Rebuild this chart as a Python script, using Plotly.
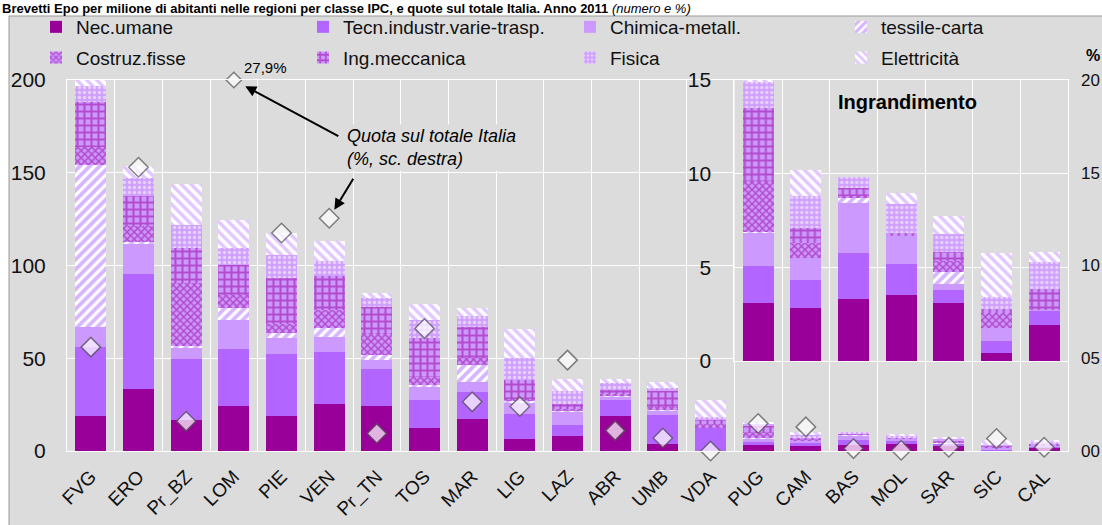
import plotly.graph_objects as go
import numpy as np

regions = ["FVG", "ERO", "Pr_BZ", "LOM", "PIE", "VEN", "Pr_TN", "TOS", "MAR", "LIG", "LAZ",
           "ABR", "UMB", "VDA", "PUG", "CAM", "BAS", "MOL", "SAR", "SIC", "CAL"]

nec_umane = [18.8, 33.2, 16.6, 24.2, 18.8, 25.6, 24.2, 12.4, 17.1, 6.7, 8.1,
             18.8, 4.0, 0.0, 3.12, 2.85, 3.33, 3.55, 3.07, 0.41, 1.91]
tecn_industr = [37.1, 62.1, 33.0, 30.8, 33.5, 27.6, 20.0, 15.0, 14.8, 13.5, 5.8,
                8.6, 15.3, 12.6, 1.93, 1.45, 2.43, 1.65, 0.71, 0.65, 0.77]
chimica = [11.1, 16.8, 6.3, 15.6, 8.5, 8.4, 4.8, 7.2, 5.4, 6.0, 7.2,
           1.8, 2.7, 0.0, 1.79, 1.19, 2.66, 1.45, 0.35, 0.71, 0.05]
tessile = [87.4, 0.6, 0.8, 6.4, 2.7, 4.9, 2.7, 1.0, 9.0, 0.8, 0.8,
           0.8, 0.5, 0.0, 0.05, 0.0, 0.32, 0.0, 0.62, 0.0, 0.0]
costruz = [9.6, 8.4, 33.8, 7.2, 4.8, 9.6, 11.8, 4.4, 4.0, 1.2, 1.0,
           1.0, 1.0, 2.0, 2.7, 0.81, 0.05, 0.0, 0.57, 0.77, 0.0]
ing_mecc = [24.1, 16.2, 18.9, 16.2, 24.9, 18.0, 14.3, 20.8, 16.7, 10.0, 2.7,
            1.8, 9.3, 2.5, 3.9, 0.78, 0.44, 0.18, 0.50, 0.26, 1.13]
fisica = [8.7, 9.9, 12.6, 9.3, 12.6, 8.1, 4.6, 9.8, 5.8, 11.7, 6.7,
          3.6, 1.0, 1.0, 1.4, 1.74, 0.59, 1.56, 0.97, 0.59, 1.42]
elettricita = [4.0, 6.3, 22.2, 15.0, 11.7, 10.8, 2.7, 8.5, 4.2, 15.7, 6.5,
               2.4, 3.5, 9.3, 0.4, 1.37, 0.0, 0.58, 0.94, 2.39, 0.55]

quota = [5.6, 15.3, 1.6, 27.9, 11.75, 12.55, 0.94, 6.6, 2.65, 2.4, 4.9,
         1.1, 0.7, 0.0, 1.48, 1.3, 0.13, 0.04, 0.2, 0.67, 0.2]

y_ticks = [0, 50, 100, 150, 200]
inset_ticks = [0, 5, 10, 15]
pct_ticks = [0, 5, 10, 15, 20]
pct_text = ["00", "05", "10", "15", "20"]
inset_start = 14  # PUG

FONT = "Liberation Sans, Arial, sans-serif"
BG = "#dcdcdc"

# plot area geometry in pixels
W, H = 1102, 525
ML, MR, MT, MB = 67, 34, 80, 74
PW, PH = W - ML - MR, H - MT - MB


def px_x(p):
    return (p - ML) / PW


def px_y(p):
    return (H - MB - p) / PH


series = [
    ("Nec.umane", nec_umane, dict(color="#990099"), "legend"),
    ("Tecn.industr.varie-trasp.", tecn_industr, dict(color="#b266ff"), "legend2"),
    ("Chimica-metall.", chimica, dict(color="#cc99ff"), "legend3"),
    ("tessile-carta", tessile, dict(color="white", pattern=dict(shape="/", fgcolor="#b06cff", bgcolor="white", size=7, solidity=0.55)), "legend4"),
    ("Costruz.fisse", costruz, dict(color="#cc88ee", pattern=dict(shape="x", fgcolor="#990099", bgcolor="#cc99ff", size=5, solidity=0.5)), "legend"),
    ("Ing.meccanica", ing_mecc, dict(color="#cc99ff", pattern=dict(shape="+", fgcolor="#990099", bgcolor="#cc99ff", size=7, solidity=0.5)), "legend2"),
    ("Fisica", fisica, dict(color="#d9b3ff", pattern=dict(shape=".", fgcolor="white", bgcolor="#d0a0ff", size=5, solidity=0.35)), "legend3"),
    ("Elettricità", elettricita, dict(color="white", pattern=dict(shape="\\", fgcolor="#c690ff", bgcolor="white", size=7, solidity=0.5)), "legend4"),
]

fig = go.Figure()
for name, vals, mk, lg in series:
    fig.add_trace(go.Bar(x=regions, y=vals, name=name, marker=dict(line=dict(width=0), **mk),
                         legend=lg, legendgroup=name, xaxis="x", yaxis="y"))
for name, vals, mk, lg in series:
    fig.add_trace(go.Bar(x=regions[inset_start:], y=vals[inset_start:], name=name,
                         marker=dict(line=dict(width=0), **mk), showlegend=False,
                         legendgroup=name, xaxis="x2", yaxis="y3"))

q = np.array(quota)
fig.add_trace(go.Scatter(x=regions, y=np.minimum(q, 20), mode="markers", showlegend=False,
                         marker=dict(symbol="diamond", size=np.where(q > 20, 12, 15), color="white",
                                     line=dict(color="#555555", width=1.5)),
                         xaxis="x", yaxis="y2", cliponaxis=False))

grid = dict(showgrid=True, gridcolor="white", gridwidth=1, showline=True, linecolor="white",
            linewidth=1, mirror=True, zeroline=False, automargin=False)
tickfont = dict(family=FONT, size=21, color="#111")

n_main = len(regions)
n_inset = n_main - inset_start
inset_x0 = inset_start / n_main
inset_y0 = px_y(361)

fig.update_layout(
    width=W, height=H, barmode="stack", bargap=0.35,
    margin=dict(l=ML, r=MR, t=MT, b=MB, autoexpand=False),
    paper_bgcolor="white", plot_bgcolor="rgba(0,0,0,0)",
    font=dict(family=FONT, size=20, color="#111"),
    xaxis=dict(domain=[0, 1], type="category", range=[-0.5, n_main - 0.5], tickson="boundaries",
               ticks="", tickangle=-45, tickfont=dict(family=FONT, size=19, color="#111"),
               ticklabelstandoff=6, **grid),
    yaxis=dict(domain=[0, 1], range=[0, 200], tickvals=y_ticks, ticks="", tickfont=tickfont,
               ticklabelstandoff=16, **grid),
    yaxis2=dict(overlaying="y", side="right", range=[0, 20], tickvals=pct_ticks, ticktext=pct_text,
                showgrid=False, zeroline=False, ticks="", tickfont=dict(family=FONT, size=17, color="#111"),
                ticklabelstandoff=12, automargin=False),
    xaxis2=dict(domain=[inset_x0, 1], anchor="y3", type="category", range=[-0.5, n_inset - 0.5],
                tickson="boundaries", ticks="", showticklabels=False, **grid),
    yaxis3=dict(domain=[inset_y0, 1], anchor="x2", range=[0, 15], tickvals=inset_ticks, ticks="",
                tickfont=tickfont, ticklabelstandoff=18, **grid),
    showlegend=True,
)

leg_common = dict(orientation="v", bgcolor="rgba(0,0,0,0)", traceorder="grouped", tracegroupgap=3,
                  font=dict(family=FONT, size=19, color="#111"), yanchor="top", xanchor="left",
                  itemwidth=30)
leg_y = px_y(8)
fig.update_layout(
    legend=dict(x=px_x(36), y=leg_y, **leg_common),
    legend2=dict(x=px_x(303), y=leg_y, **leg_common),
    legend3=dict(x=px_x(570), y=leg_y, **leg_common),
    legend4=dict(x=px_x(841), y=leg_y, **leg_common),
)

shapes = [
    dict(type="rect", xref="paper", yref="paper", x0=px_x(9), x1=px_x(1115), y0=px_y(540), y1=px_y(16),
         fillcolor=BG, line=dict(color="#9a9a9a", width=1), layer="below"),
    dict(type="rect", xref="x2", yref="y3", x0=-0.5, x1=n_inset - 0.5, y0=0, y1=15,
         fillcolor=BG, line=dict(width=0), layer="below"),
]
fig.update_layout(shapes=shapes)

lom = regions.index("LOM")
ven = regions.index("VEN")
annotations = [
    dict(xref="paper", yref="paper", x=px_x(1), y=px_y(0), xanchor="left", yanchor="top",
         showarrow=False, align="left", borderpad=0,
         text="<b>Brevetti Epo per milione di abitanti nelle regioni per classe IPC, e quote sul totale Italia. Anno 2011</b> <i>(numero e %)</i>",
         font=dict(family=FONT, size=13, color="#000")),
    dict(xref="paper", yref="paper", x=px_x(1084), y=px_y(56), xanchor="left", yanchor="middle",
         showarrow=False, text="<b>%</b>", font=dict(family=FONT, size=16, color="#000")),
    dict(xref="x2 domain", yref="y3 domain", x=0.52, y=0.92, xanchor="center", yanchor="middle",
         showarrow=False, text="<b>Ingrandimento</b>",
         font=dict(family=FONT, size=20, color="#000")),
    dict(xref="x", yref="y2", x=regions[lom], y=min(quota[lom], 20), xanchor="left", yanchor="middle",
         xshift=8, yshift=13, showarrow=False, text=f"{quota[lom]:.1f}%".replace(".", ","),
         font=dict(family=FONT, size=15, color="#000")),
    dict(xref="paper", yref="paper", x=px_x(345), y=px_y(124), xanchor="left", yanchor="top",
         showarrow=False, align="left", bgcolor=BG,
         text="<i>Quota sul totale Italia<br>(%, sc. destra)</i>",
         font=dict(family=FONT, size=18, color="#000")),
    dict(xref="x", yref="y2", x=regions[lom], y=min(quota[lom], 20), ax=106, ay=57, text="",
         showarrow=True, arrowhead=2, arrowsize=1.1, arrowwidth=2, arrowcolor="#000", standoff=13),
    dict(xref="x", yref="y2", x=regions[ven], y=quota[ven], ax=25, ay=-41, text="",
         showarrow=True, arrowhead=2, arrowsize=1.1, arrowwidth=2, arrowcolor="#000", standoff=10),
]
fig.update_layout(annotations=annotations)

fig.write_html("out.html", config={"displayModeBar": False},
               post_script="document.body.style.margin='0px';document.body.style.padding='0px';")
